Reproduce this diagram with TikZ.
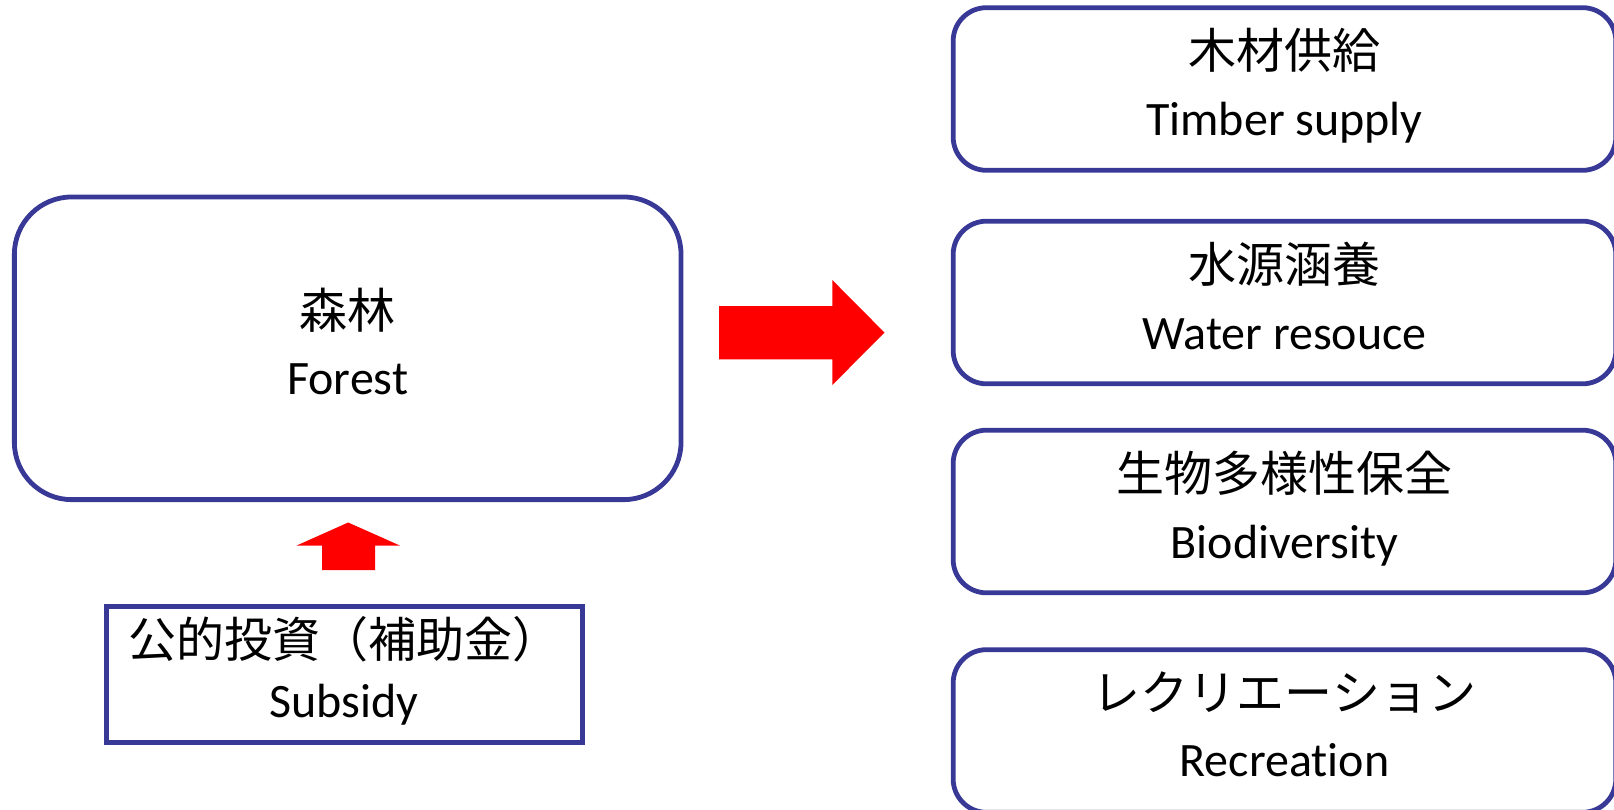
\documentclass[tikz,border=0pt]{standalone}
\usepackage{fontspec}
\setmainfont[Ligatures={NoCommon}]{Carlito}
\newfontfamily\jp{Noto Sans CJK JP}
\definecolor{boxblue}{RGB}{56,56,150}
\tikzstyle{block} = [rectangle, draw=boxblue, line width=3.6pt, fill=white, align=center, font=\fontsize{36}{50}\selectfont, execute at end node={\rule[-10.5pt]{0pt}{1pt}}]
\tikzstyle{forestbox} = [block, rounded corners=43pt, minimum width=500pt, minimum height=227pt]
\tikzstyle{service} = [block, rounded corners=25pt, minimum width=497pt, minimum height=122pt]
\tikzstyle{subsidybox} = [block, font=\fontsize{36}{45}\selectfont, minimum width=357pt, minimum height=102pt]
\tikzstyle{bigarrow} = [fill=red]

\begin{document}
\begin{tikzpicture}[x=0.75pt, y=-0.75pt]
    \useasboundingbox (0,0) rectangle (1614,810);
    \clip (0,0) rectangle (1614,810);

    % forest
    \node [forestbox] (forest) at (347.7,348.3) {{\jp 森林}\\Forest};

    % subsidy
    \node [subsidybox] (subsidy) at (344.2,674.2) {{\jp 公的投資（補助金）}\\Subsidy};

    % services of the forest
    \node [service] (timber) at (1284.5,89) {{\jp 木材供給}\\Timber supply};
    \node [service] (water) at (1284.5,302.5) {{\jp 水源涵養}\\Water resouce};
    \node [service] (bio) at (1284.5,511.5) {{\jp 生物多様性保全}\\Biodiversity};
    \node [service] (recreation) at (1284.5,731) {{\jp レクリエーション}\\Recreation};

    % block arrows
    \fill [bigarrow] (322,570) -- (322,545.6) -- (296.5,545.6) -- (348.2,522.5)
        -- (400,545.6) -- (375,545.6) -- (375,570) -- cycle;
    \fill [bigarrow] (719,306) -- (832.3,306) -- (832.3,280) -- (884.5,332.6)
        -- (832.3,385) -- (832.3,359.3) -- (719,359.3) -- cycle;
\end{tikzpicture}
\end{document}
